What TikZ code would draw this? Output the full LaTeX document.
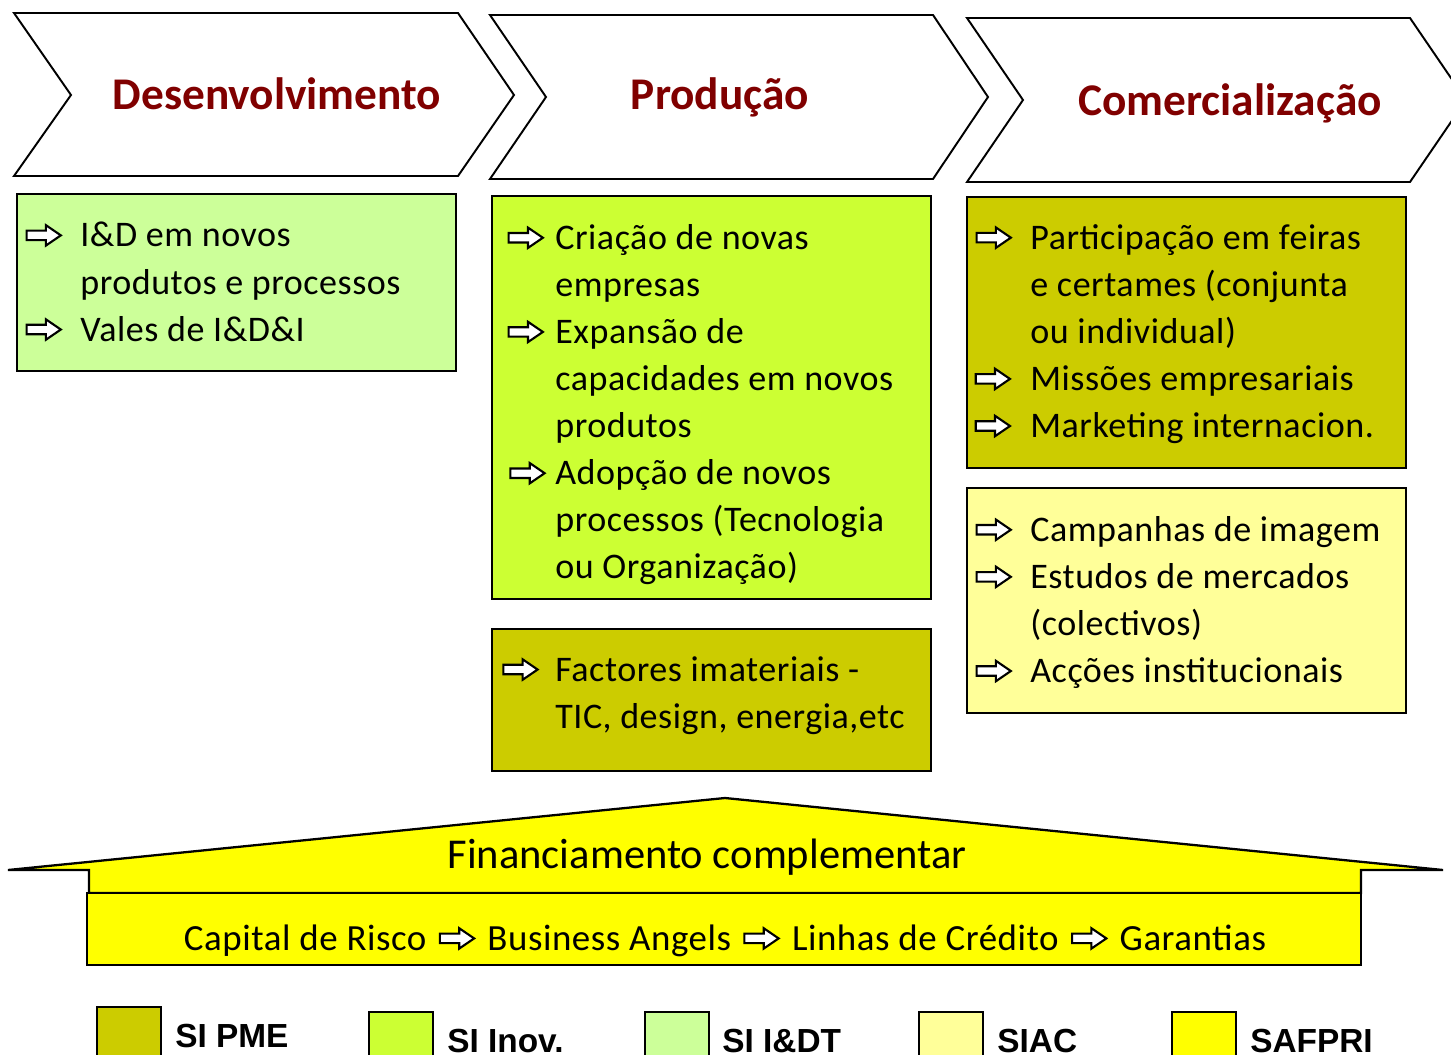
\documentclass[tikz,border=0pt]{standalone}
\usepackage{fontspec}
\setmainfont{Carlito}
\newfontfamily\bodyfont{Carlito}[LetterSpace=1.5]
\newfontfamily\legendfont{Liberation Sans}

\definecolor{sipme}{HTML}{CCCC00}
\definecolor{siinov}{HTML}{CCFF33}
\definecolor{sidt}{HTML}{CCFF99}
\definecolor{siac}{HTML}{FFFF99}
\definecolor{safpri}{HTML}{FFFF00}
\definecolor{titlered}{HTML}{800000}

% seta branca com contorno preto
\newcommand{\warr}{\tikz[baseline=-6.6pt]\draw[line width=1.2pt, fill=white, line join=miter]
  (0pt,-2.7pt)--(11pt,-2.7pt)--(11pt,-5.8pt)--(19.5pt,0pt)--(11pt,5.8pt)--(11pt,2.7pt)--(0pt,2.7pt)--cycle;}
\newcommand{\arr}[1][10.5pt]{\llap{\warr\hspace{#1}}}
\newcommand{\midarr}{\hspace{7pt}\warr\hspace{7pt}}

\tikzset{
  stage/.style={draw=black, line width=1.1pt, fill=white, line join=miter},
  prog/.style={draw=black, line width=1.3pt},
  title/.style={anchor=base, font=\bfseries\fontsize{25.8pt}{30pt}\selectfont, text=titlered, inner sep=0pt},
  item/.style={anchor=north west, align=left, inner sep=0pt,
    font=\bodyfont\fontsize{20.5pt}{26.8pt}\selectfont},
  legend/.style={anchor=base west, inner sep=0pt,
    font=\legendfont\bfseries\fontsize{19pt}{19pt}\selectfont}
}

\begin{document}
\begin{tikzpicture}[x=0.02cm, y=-0.02cm]
  \useasboundingbox[fill=white] (0,0) rectangle (1451,1055);

  % cadeia de valor
  \draw[stage] (14,13)--(458,13)--(514,95)--(458,176)--(14,176)--(71,95)--cycle;
  \draw[stage] (490,15)--(933,15)--(988,97)--(933,179)--(490,179)--(546,97)--cycle;
  \draw[stage] (967,18)--(1410,18)--(1466,100)--(1410,182)--(967,182)--(1023,100)--cycle;
  \node[title] (desenv) at (277,109) {Desenvolvimento};
  \node[title] (prod) at (720,109) {Produção};
  \node[title] (comerc) at (1230,115) {Comercialização};

  % caixas dos sistemas de incentivos
  \draw[prog, fill=sidt] (17,194) rectangle (456,371);
  \draw[prog, fill=siinov] (492,196) rectangle (931,599);
  \draw[prog, fill=sipme] (492,629) rectangle (931,771);
  \draw[prog, fill=sipme] (967,197) rectangle (1406,468);
  \draw[prog, fill=siac] (967,488) rectangle (1406,713);

  \node[item] (idt) at (80,222) {\arr I\&D em novos\\ produtos e processos\\ \arr Vales de I\&D\&I};
  \node[item] (inov) at (555,224) {\arr[6.5pt]Criação de novas\\ empresas\\ \arr[6.5pt]Expansão de\\ capacidades em novos\\ produtos\\ \arr[5.5pt]Adopção de novos\\ processos (Tecnologia\\ ou Organização)};
  \node[item] (pme1) at (555,656) {\arr[9.5pt]Factores imateriais -\\ TIC, design, energia,etc};
  \node[item] (pme2) at (1030,224) {\arr Participação em feiras\\ e certames (conjunta\\ ou individual)\\ \arr[11pt]Missões empresariais\\ \arr[11pt]Marketing internacion.};
  \node[item] (siac) at (1030,516) {\arr Campanhas de imagem\\ \arr Estudos de mercados\\ (colectivos)\\ \arr Acções institucionais};

  % financiamento complementar
  \draw[prog, fill=safpri] (8,870)--(725,798)--(1443,870)--(1361,870)--(1361,893)--(89,893)--(89,870)--cycle;
  \draw[prog, fill=safpri] (87,893) rectangle (1361,965);
  \node[inner sep=0pt, font=\fontsize{24.2pt}{29pt}\selectfont] (fin) at (707,857) {Financiamento complementar};
  \node[inner sep=0pt, anchor=base, font=\bodyfont\fontsize{21pt}{26pt}\selectfont] (safpri) at (725,950)
    {Capital de Risco\midarr Business Angels\midarr Linhas de Crédito\midarr Garantias};

  % legenda
  \draw[prog, fill=sipme] (97,1007) rectangle (161,1075);
  \draw[prog, fill=siinov] (369,1012) rectangle (433,1075);
  \draw[prog, fill=sidt] (645,1012) rectangle (709,1075);
  \draw[prog, fill=siac] (919,1012) rectangle (983,1075);
  \draw[prog, fill=safpri] (1172,1012) rectangle (1236,1075);
  \node[legend] (lpme) at (175,1047) {SI PME};
  \node[legend] (linov) at (447,1052) {SI Inov.};
  \node[legend] (ldt) at (722,1052) {SI I\&DT};
  \node[legend] (lsiac) at (997,1052) {SIAC};
  \node[legend] (lsafpri) at (1250,1052) {SAFPRI};
\end{tikzpicture}
\end{document}
